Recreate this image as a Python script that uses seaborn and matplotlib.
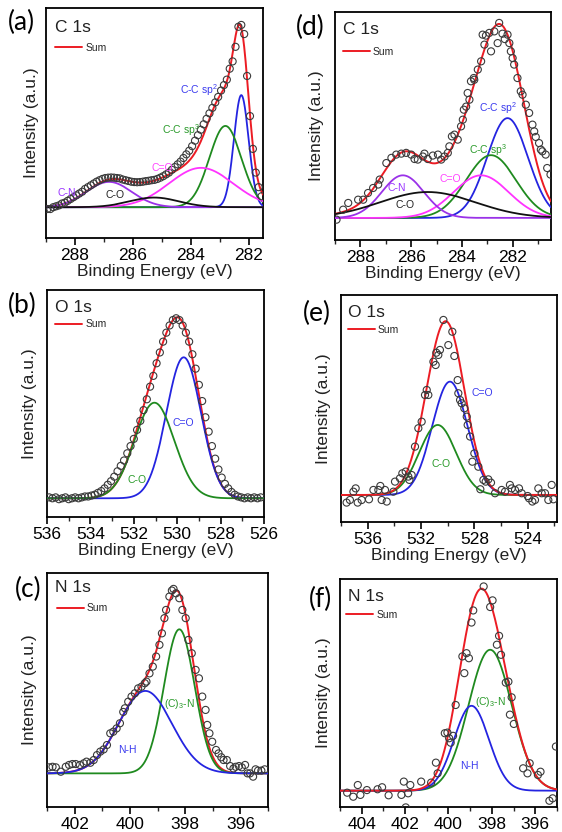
import numpy as np
import matplotlib
matplotlib.use("Agg")
import matplotlib.pyplot as plt
from matplotlib.ticker import MultipleLocator
import seaborn as sns

sns.set_theme(style="ticks")
plt.rcParams['font.family'] = ['Liberation Sans', 'DejaVu Sans']
plt.rcParams['mathtext.fontset'] = 'custom'
plt.rcParams['mathtext.rm'] = 'Liberation Sans'
plt.rcParams['mathtext.it'] = 'Liberation Sans:italic'

# ---------------- data ----------------
# (a) C 1s
A_E = [288.95, 288.85, 288.75, 288.65, 288.55, 288.45, 288.35, 288.25, 288.15, 288.05,
       287.95, 287.85, 287.75, 287.65, 287.55, 287.45, 287.35, 287.25, 287.15, 287.05,
       286.95, 286.85, 286.75, 286.65, 286.55, 286.45, 286.35, 286.25, 286.15, 286.05,
       285.95, 285.85, 285.75, 285.65, 285.55, 285.45, 285.35, 285.25, 285.15, 285.05,
       284.95, 284.85, 284.75, 284.65, 284.55, 284.45, 284.35, 284.25, 284.15, 284.05,
       283.95, 283.85, 283.75, 283.65, 283.55, 283.45, 283.35, 283.25, 283.15, 283.05,
       282.95, 282.85, 282.75, 282.65, 282.55, 282.45, 282.35, 282.25, 282.15, 282.05,
       281.95, 281.85, 281.75, 281.65, 281.55]
A_I = [-0.01, -0.01, 0.0, 0.005, 0.01, 0.02, 0.025, 0.035, 0.045, 0.055,
       0.065, 0.075, 0.085, 0.10, 0.11, 0.12, 0.13, 0.14, 0.148, 0.155,
       0.16, 0.162, 0.163, 0.162, 0.16, 0.158, 0.152, 0.148, 0.144, 0.14,
       0.138, 0.137, 0.138, 0.14, 0.143, 0.145, 0.148, 0.15, 0.155, 0.162,
       0.17, 0.18, 0.19, 0.205, 0.22, 0.235, 0.25, 0.27, 0.29, 0.31,
       0.335, 0.365, 0.395, 0.425, 0.455, 0.485, 0.515, 0.545, 0.575, 0.605,
       0.64, 0.67, 0.70, 0.76, 0.80, 0.88, 0.99, 1.0, 0.95, 0.72,
       0.50, 0.32, 0.19, 0.11, 0.06]
A_PEAKS = ['C-C sp$^2$', 'C-C sp$^3$', 'C=O', 'C-N', 'C-O']
A_CENTER = [282.25, 282.8, 283.64, 286.82, 285.26]
A_HEIGHT = [0.615, 0.446, 0.216, 0.139, 0.053]
A_FWHM = [0.6, 1.3, 2.6, 1.85, 2.0]

# (d) C 1s
D_E = [288.94, 288.68, 288.48, 288.09, 287.89, 287.70, 287.50, 287.30, 287.24, 286.98,
       286.78, 286.59, 286.39, 286.20, 286.00, 285.87, 285.74, 285.54, 285.48, 285.35,
       285.15, 284.95, 284.82, 284.69, 284.56, 284.50, 284.40, 284.30, 284.17, 284.04,
       283.97, 283.93, 283.84, 283.78, 283.71, 283.65, 283.54, 283.52, 283.38, 283.25,
       283.19, 283.12, 283.06, 282.93, 282.86, 282.73, 282.60, 282.54, 282.41, 282.32,
       282.21, 282.14, 282.08, 282.01, 281.95, 281.82, 281.69, 281.62, 281.49, 281.36,
       281.23, 281.16, 281.10, 280.97, 280.90, 280.84, 280.71, 280.65, 280.52]
D_I = [-0.009, 0.043, 0.078, 0.095, 0.095, 0.13, 0.156, 0.174, 0.20, 0.286,
       0.313, 0.33, 0.335, 0.339, 0.33, 0.307, 0.304, 0.32, 0.335, 0.307,
       0.325, 0.33, 0.304, 0.32, 0.339, 0.373, 0.425, 0.434, 0.408, 0.477,
       0.512, 0.564, 0.58, 0.651, 0.616, 0.712, 0.729, 0.72, 0.773, 0.816,
       0.955, 0.903, 0.95, 0.964, 0.868, 0.972, 0.911, 1.016, 0.96, 0.932,
       0.955, 0.911, 0.868, 0.833, 0.799, 0.729, 0.66, 0.642, 0.59, 0.547,
       0.486, 0.451, 0.422, 0.39, 0.356, 0.347, 0.33, 0.26, 0.226]
D_PEAKS = ['C-C sp$^2$', 'C-C sp$^3$', 'C=O', 'C-N', 'C-O']
D_CENTER = [282.21, 282.86, 283.25, 286.33, 285.35]
D_HEIGHT = [0.52, 0.327, 0.222, 0.222, 0.135]
D_FWHM = [1.9, 2.3, 2.55, 1.96, 4.4]

# (b) O 1s
B_E = [535.90, 535.75, 535.60, 535.45, 535.30, 535.15, 535.00, 534.85, 534.70, 534.55,
       534.40, 534.25, 534.10, 533.95, 533.80, 533.65, 533.50, 533.35, 533.20, 533.05,
       532.90, 532.75, 532.60, 532.45, 532.30, 532.15, 532.00, 531.85, 531.70, 531.55,
       531.40, 531.25, 531.10, 530.95, 530.80, 530.65, 530.50, 530.35, 530.20, 530.05,
       529.90, 529.75, 529.60, 529.45, 529.30, 529.15, 529.00, 528.85, 528.70, 528.55,
       528.40, 528.25, 528.10, 527.95, 527.80, 527.65, 527.50, 527.35, 527.20, 527.05,
       526.90, 526.75, 526.60, 526.45, 526.30, 526.15]
B_I = [0.005, 0.0, 0.005, -0.005, 0.0, 0.005, -0.005, 0.0, 0.005, 0.0,
       0.005, 0.01, 0.01, 0.015, 0.02, 0.03, 0.04, 0.055, 0.075, 0.095,
       0.12, 0.15, 0.18, 0.21, 0.25, 0.29, 0.33, 0.38, 0.43, 0.49,
       0.55, 0.62, 0.68, 0.75, 0.81, 0.87, 0.92, 0.96, 0.99, 1.0,
       0.99, 0.96, 0.92, 0.87, 0.80, 0.72, 0.63, 0.54, 0.45, 0.37,
       0.29, 0.22, 0.16, 0.115, 0.08, 0.055, 0.035, 0.02, 0.01, 0.005,
       0.0, 0.005, 0.0, 0.005, 0.0, 0.005]
B_PEAKS = ['C=O', 'C-O']
B_CENTER = [529.70, 531.05]
B_HEIGHT = [0.783, 0.531]
B_FWHM = [1.88, 2.16]

# (e) O 1s
E_E = [537.58, 537.33, 537.07, 536.90, 536.75, 536.45, 535.90, 535.57, 535.20, 535.05,
       534.95, 534.70, 534.57, 534.07, 533.95, 533.58, 533.40, 533.15, 532.95, 532.87,
       532.70, 532.45, 532.20, 531.95, 531.70, 531.57, 531.45, 531.07, 530.90, 530.85,
       530.70, 530.58, 530.32, 529.95, 529.65, 529.50, 529.25, 529.20, 529.07, 528.95,
       528.75, 528.57, 528.50, 528.32, 528.15, 528.00, 527.70, 527.55, 527.32, 527.15,
       526.95, 526.75, 526.45, 525.95, 525.70, 525.33, 525.20, 524.95, 524.65, 524.45,
       524.00, 523.90, 523.65, 523.45, 523.20, 522.95, 522.70, 522.45, 522.20, 522.07]
E_I = [-0.044, -0.029, 0.019, 0.038, -0.044, -0.029, -0.025, 0.029, 0.029, 0.052,
       -0.029, 0.029, -0.038, 0.019, 0.077, 0.096, 0.125, 0.135, 0.106, 0.087,
       0.115, 0.279, 0.385, 0.423, 0.577, 0.606, 0.577, 0.769, 0.75, 0.821,
       0.808, 0.837, 1.01, 0.865, 0.942, 0.802, 0.663, 0.587, 0.548, 0.529,
       0.50, 0.452, 0.404, 0.337, 0.192, 0.24, 0.163, 0.033, 0.087, 0.077,
       0.09, 0.071, 0.01, 0.029, 0.019, 0.058, 0.038, 0.029, 0.038, 0.01,
       -0.006, -0.019, -0.038, -0.029, 0.038, 0.01, 0.01, -0.029, 0.058, -0.025]
E_PEAKS = ['C=O', 'C-O']
E_CENTER = [529.83, 530.75]
E_HEIGHT = [0.654, 0.404]
E_FWHM = [3.13, 3.25]

# (c) N 1s
C_E = [402.92, 402.80, 402.68, 402.50, 402.32, 402.20, 402.08, 401.96, 401.81, 401.67,
       401.57, 401.43, 401.31, 401.19, 401.07, 400.95, 400.83, 400.71, 400.60, 400.48,
       400.36, 400.24, 400.18, 400.06, 399.94, 399.82, 399.70, 399.58, 399.46, 399.40,
       399.29, 399.17, 399.05, 398.93, 398.84, 398.75, 398.69, 398.57, 398.48, 398.42,
       398.33, 398.21, 398.10, 397.98, 397.88, 397.76, 397.62, 397.50, 397.38, 397.26,
       397.20, 397.12, 397.02, 396.88, 396.79, 396.69, 396.61, 396.49, 396.37, 396.25,
       396.17, 396.05, 395.95, 395.83, 395.74, 395.65, 395.54, 395.45, 395.36, 395.24,
       395.12]
C_I = [0.033, 0.036, 0.033, 0.009, 0.036, 0.046, 0.051, 0.051, 0.046, 0.055,
       0.064, 0.058, 0.073, 0.10, 0.119, 0.131, 0.155, 0.219, 0.228, 0.246,
       0.274, 0.336, 0.356, 0.392, 0.42, 0.438, 0.465, 0.474, 0.493, 0.502,
       0.547, 0.584, 0.639, 0.703, 0.766, 0.849, 0.894, 0.967, 1.0, 1.009,
       0.985, 0.958, 0.894, 0.849, 0.73, 0.657, 0.566, 0.52, 0.42, 0.347,
       0.265, 0.219, 0.173, 0.128, 0.109, 0.088, 0.073, 0.073, 0.04, 0.027,
       0.036, 0.04, 0.033, 0.046, 0.0, 0.0, -0.018, 0.022, 0.015, 0.015,
       0.022]
C_PEAKS = ['(C)$_3$-N', 'N-H']
C_CENTER = [398.21, 399.44]
C_HEIGHT = [0.788, 0.451]
C_FWHM = [1.31, 2.26]

# (f) N 1s
F_E = [404.67, 404.39, 404.18, 404.06, 403.76, 403.27, 403.06, 402.76, 402.17, 402.06,
       401.97, 401.86, 401.76, 401.26, 400.80, 400.58, 400.50, 400.17, 400.05, 399.97,
       399.90, 399.79, 399.67, 399.36, 399.27, 399.17, 399.06, 398.94, 398.86, 398.38,
       398.08, 397.97, 397.77, 397.67, 397.58, 397.36, 397.24, 397.17, 397.09, 396.99,
       396.56, 396.36, 396.26, 395.88, 395.76, 395.35, 395.20, 395.05]
F_I = [-0.01, -0.03, 0.028, -0.021, 0.003, 0.007, 0.017, -0.023, -0.021, 0.045,
       -0.083, -0.013, 0.028, 0.045, 0.04, 0.139, 0.086, 0.285, 0.288, 0.26,
       0.238, 0.272, 0.425, 0.666, 0.583, 0.682, 0.657, 0.834, 0.894, 1.013,
       0.911, 0.944, 0.724, 0.768, 0.674, 0.536, 0.541, 0.377, 0.463, 0.331,
       0.111, 0.086, 0.136, 0.078, 0.094, -0.05, -0.038, 0.219]
F_PEAKS = ['(C)$_3$-N', 'N-H']
F_CENTER = [398.08, 398.94]
F_HEIGHT = [0.699, 0.421]
F_FWHM = [2.35, 1.89]

# ---------------- styling ----------------
RED = '#ec1c24'
BLUE = '#2424e0'
GREEN = '#1f8a1f'
MAGENTA = '#ff33ff'
PURPLE = '#9a32e8'
BLACK = '#111111'
LBL = {BLUE: '#3a3aee', GREEN: '#2a9a2a', MAGENTA: '#ff44ff', PURPLE: '#9933ff', BLACK: '#222222'}

W, H = 562, 832


def gauss(x, c, h, w):
    return h * np.exp(-4 * np.log(2) * (x - c) ** 2 / w ** 2)


panels = [
    dict(letter='(a)', lpos=(21, 22), title='C 1s', tpos=(0.041, 0.915), leg=(0.041, 0.827),
         E=A_E, I=A_I, names=A_PEAKS, cen=A_CENTER, hei=A_HEIGHT, fw=A_FWHM,
         colors=[BLUE, GREEN, MAGENTA, PURPLE, BLACK],
         lab=[(283.7, 0.643), (284.33, 0.423), (284.98, 0.214), (288.29, 0.079), (286.61, 0.066)],
         box=(46, 8, 263, 238), xlim=(289, 281.5), ylim=(-0.169, 1.093), maj=2, mn=1,
         xlabel=True, sum_top=False, ypad=5),
    dict(letter='(d)', lpos=(310, 27), title='C 1s', tpos=(0.036, 0.925), leg=(0.036, 0.826),
         E=D_E, I=D_I, names=D_PEAKS, cen=D_CENTER, hei=D_HEIGHT, fw=D_FWHM,
         colors=[BLUE, GREEN, MAGENTA, PURPLE, BLACK],
         lab=[(282.6, 0.573), (282.97, 0.356), (284.47, 0.205), (286.56, 0.156), (286.26, 0.066)],
         box=(335, 12, 551, 240), xlim=(289, 280.5), ylim=(-0.115, 1.073), maj=2, mn=1,
         xlabel=True, sum_top=False, ypad=8),
    dict(letter='(b)', lpos=(22, 305), title='O 1s', tpos=(0.037, 0.923), leg=(0.037, 0.849),
         E=B_E, I=B_I, names=B_PEAKS, cen=B_CENTER, hei=B_HEIGHT, fw=B_FWHM,
         colors=[BLUE, GREEN],
         lab=[(529.7, 0.417), (531.87, 0.102)],
         box=(47, 290, 264, 517), xlim=(536, 526), ylim=(-0.104, 1.157), maj=2, mn=1,
         xlabel=True, sum_top=False, ypad=7),
    dict(letter='(e)', lpos=(317, 313), title='O 1s', tpos=(0.031, 0.923), leg=(0.031, 0.846),
         E=E_E, I=E_I, names=E_PEAKS, cen=E_CENTER, hei=E_HEIGHT, fw=E_FWHM,
         colors=[BLUE, GREEN],
         lab=[(527.37, 0.587), (530.47, 0.177)],
         box=(341, 295, 557, 522), xlim=(538, 521.8), ylim=(-0.156, 1.154), maj=4, mn=2,
         xlabel=True, sum_top=True, ypad=7),
    dict(letter='(c)', lpos=(28, 589), title='N 1s', tpos=(0.036, 0.936), leg=(0.044, 0.849),
         E=C_E, I=C_I, names=C_PEAKS, cen=C_CENTER, hei=C_HEIGHT, fw=C_FWHM,
         colors=[GREEN, BLUE],
         lab=[(398.21, 0.38), (400.1, 0.128)],
         box=(47, 573, 268, 807), xlim=(403, 395), ylim=(-0.184, 1.096), maj=2, mn=1,
         xlabel=False, sum_top=False, ypad=7),
    dict(letter='(f)', lpos=(321, 599), title='N 1s', tpos=(0.035, 0.922), leg=(0.028, 0.842),
         E=F_E, I=F_I, names=F_PEAKS, cen=F_CENTER, hei=F_HEIGHT, fw=F_FWHM,
         colors=[GREEN, BLUE],
         lab=[(398.08, 0.442), (399.06, 0.124)],
         box=(340, 579, 557, 807), xlim=(405, 395), ylim=(-0.081, 1.05), maj=2, mn=1,
         xlabel=False, sum_top=True, ypad=6.5),
]

fig = plt.figure(figsize=(W / 100, H / 100), dpi=100)
fig.patch.set_facecolor('white')

for p in panels:
    l, t, r, b = p['box']
    ax = fig.add_axes([l / W, 1 - b / H, (r - l) / W, (b - t) / H])
    ax.set_facecolor('white')
    lo, hi = min(p['xlim']), max(p['xlim'])
    grid = np.linspace(lo, hi, 900)
    comps = [gauss(grid, c, h, w) for c, h, w in zip(p['cen'], p['hei'], p['fw'])]
    total = np.sum(comps, axis=0)

    sns.scatterplot(x=p['E'], y=p['I'], ax=ax, marker='o', s=26, facecolor='none',
                    edgecolor='#3a3a3a', linewidth=0.8, zorder=6)
    sns.lineplot(x=grid, y=total, ax=ax, color=RED, lw=1.4,
                 zorder=5 if p['sum_top'] else 3, label='Sum')
    sum_line = ax.lines[-1]
    for comp, col in zip(comps, p['colors']):
        sns.lineplot(x=grid, y=comp, ax=ax, color=col, lw=1.3, zorder=4)

    for name, col, (lx, ly) in zip(p['names'], p['colors'], p['lab']):
        ax.text(lx, ly, name, color=LBL[col], fontsize=7.5, ha='center', va='center', zorder=7)

    ax.set_xlim(*p['xlim'])
    ax.set_ylim(*p['ylim'])
    ax.set_yticks([])
    ax.xaxis.set_major_locator(MultipleLocator(p['maj']))
    ax.xaxis.set_minor_locator(MultipleLocator(p['mn']))
    ax.tick_params(axis='x', which='major', direction='out', length=5, width=1.2,
                   labelsize=12.5, pad=2, colors='black')
    ax.tick_params(axis='x', which='minor', direction='out', length=3, width=1.0, bottom=True)
    for s in ax.spines.values():
        s.set_visible(True)
        s.set_linewidth(1.3)
        s.set_color('black')
    ax.set_ylabel('Intensity (a.u.)', fontsize=12.5, labelpad=p['ypad'], color='#222222')
    if p['xlabel']:
        ax.set_xlabel('Binding Energy (eV)', fontsize=12.5, labelpad=1, color='#222222')
    else:
        ax.set_xlabel('')

    ax.text(p['tpos'][0], p['tpos'][1], p['title'], transform=ax.transAxes,
            fontsize=12.5, ha='left', va='center', color='#222222')
    ax.legend(handles=[sum_line], labels=['Sum'], loc='center left',
              bbox_to_anchor=p['leg'], frameon=False, fontsize=7.5, handlelength=2.6,
              handletextpad=0.3, borderpad=0, borderaxespad=0)

    fig.text(p['lpos'][0] / W, 1 - p['lpos'][1] / H, p['letter'], fontsize=19,
             family=['Lato', 'DejaVu Sans'], ha='center', va='center', color='black')

fig.savefig('out.png', dpi=100, facecolor='white')
